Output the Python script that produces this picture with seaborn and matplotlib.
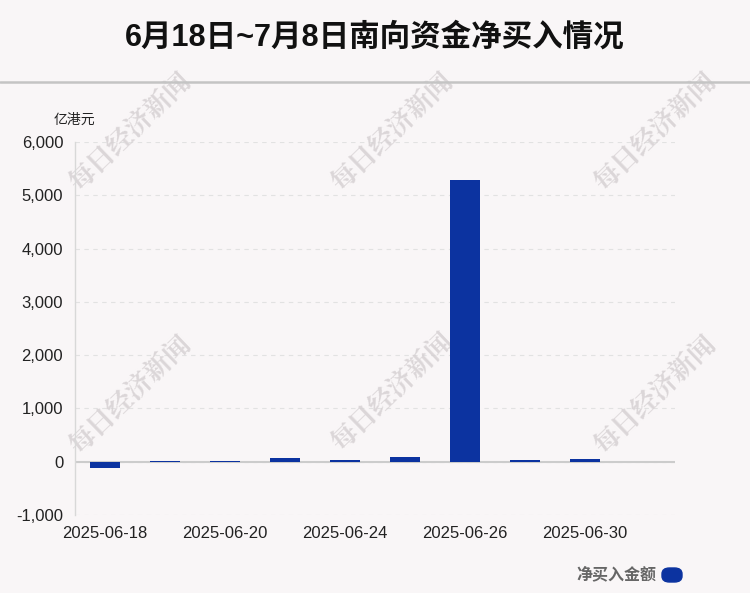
import matplotlib
matplotlib.use("Agg")
import matplotlib.pyplot as plt
import seaborn as sns
import pandas as pd
from matplotlib.patches import FancyBboxPatch
from matplotlib.lines import Line2D

dates = ["2025-06-18", "2025-06-19", "2025-06-20", "2025-06-23", "2025-06-24",
         "2025-06-25", "2025-06-26", "2025-06-27", "2025-06-30", "2025-07-01"]
values = [-110, 18, 15, 75, 35, 95, 5290, 30, 55, -8]
shown_labels = ["2025-06-18", "", "2025-06-20", "", "2025-06-24",
                "", "2025-06-26", "", "2025-06-30", ""]
yticks = [-1000, 0, 1000, 2000, 3000, 4000, 5000, 6000]

BG = "#f9f6f7"
BLUE = "#0c33a0"

sns.set_theme(style="white")
plt.rcParams['font.family'] = ['Liberation Sans', 'Noto Sans CJK SC', 'DejaVu Sans']

fig = plt.figure(figsize=(7.5, 5.93), dpi=100, facecolor=BG)
ax = fig.add_axes([0.1, 0.1315, 0.8, 0.629])
ax.set_facecolor(BG)

df = pd.DataFrame({"date": dates, "value": values})
sns.barplot(data=df, x="date", y="value", color=BLUE, width=0.5, ax=ax, saturation=1,
            zorder=3, linewidth=0, edgecolor=BLUE)

ax.set_ylim(-1000, 6000)
ax.set_xlim(-0.5, len(dates) - 0.5)
ax.set_yticks(yticks)
ax.set_yticklabels([f"{v:,}" for v in yticks], fontsize=12, color="#222222")
ax.set_xticks(range(len(dates)))
ax.set_xticklabels(shown_labels, fontsize=12, color="#222222")
ax.tick_params(axis="y", length=0, pad=8.5)
ax.tick_params(axis="x", length=0, pad=8)
ax.set_xlabel("")
ax.set_ylabel("")

for s in ["top", "right", "bottom"]:
    ax.spines[s].set_visible(False)
ax.spines["left"].set_color("#d8d8d8")
ax.spines["left"].set_linewidth(1)
ax.yaxis.grid(True, linestyle=(0, (4, 4)), color="#e2e2e2", linewidth=0.8)
ax.set_axisbelow(True)
ax.axhline(0, color="#cccccc", linewidth=1.5, zorder=2)

# title
fig.text(0.5, 1 - 38 / 593, "6月18日~7月8日南向资金净买入情况", ha="center", va="center",
         fontsize=22, fontweight="bold", color="#111111",
         family=['Liberation Sans', 'Noto Sans CJK SC'])
fig.add_artist(Line2D([0, 1], [1 - 81.5 / 593] * 2, color="#c4c4c4", linewidth=1.8))

# unit
fig.text(54 / 750, 1 - 120 / 593, "亿港元", ha="left", va="center", fontsize=10,
         color="#222222", family=['Noto Sans CJK SC'])

# legend
fig.text(656 / 750, 1 - 574 / 593, "净买入金额", ha="right", va="center", fontsize=11.5,
         fontweight="bold", color="#666666", family=['Noto Sans CJK SC'])
fig.add_artist(FancyBboxPatch((662 / 750, 1 - 582 / 593), 20 / 750, 14 / 593,
                              boxstyle="round,pad=0,rounding_size=0.01",
                              transform=fig.transFigure, facecolor=BLUE, edgecolor=BLUE))

# watermarks (drawn beneath the bars)
for (cx, cy) in [(130, 132), (392, 132), (655, 132), (130, 395), (392, 392), (655, 395)]:
    ax.text(cx / 750, 1 - cy / 593, "每日经济新闻", ha="center", va="center", rotation=44,
            fontsize=19, fontweight="bold", color="#d6d1d3", alpha=0.85,
            family=['Noto Serif CJK SC', 'Noto Sans CJK SC'], zorder=1.5,
            transform=fig.transFigure, clip_on=False)

fig.savefig("out.png", dpi=100, facecolor=BG)
